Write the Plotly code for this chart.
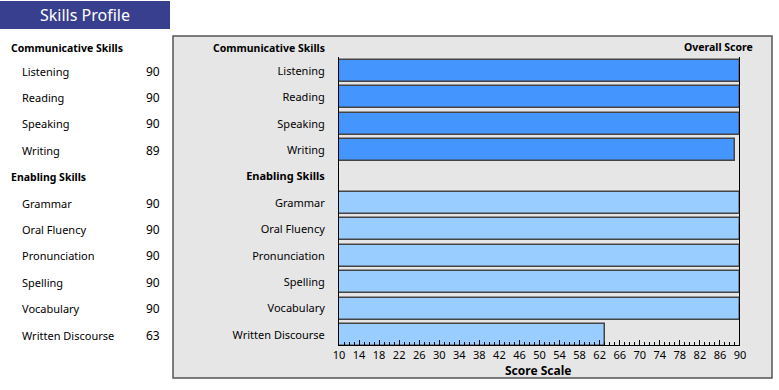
import plotly.graph_objects as go

# ---------------- data ----------------
comm_skills = ["Listening", "Reading", "Speaking", "Writing"]
comm_scores = [90, 90, 90, 89]
enab_skills = ["Grammar", "Oral Fluency", "Pronunciation", "Spelling", "Vocabulary", "Written Discourse"]
enab_scores = [90, 90, 90, 90, 90, 63]
group_titles = ["Communicative Skills", "Enabling Skills"]
scale_min, scale_max = 10, 90
overall_score = 90
tick_values = list(range(10, 91, 4))

# ---------------- layout helpers ----------------
W, H = 779, 390
PX_L, PX_R, PY_T, PY_B = 339, 740, 57, 345
ROW0, PITCH = 71, 26.4
FONT = "Noto Sans"

def px_x(px):
    return (px - PX_L) / (PX_R - PX_L)

def px_y(py):
    return (PY_B - py) / (PY_B - PY_T)

comm_rows = list(range(len(comm_skills)))
header_row = len(comm_skills)
enab_rows = [header_row + 1 + i for i in range(len(enab_skills))]

fig = go.Figure()
fig.add_trace(go.Bar(
    y=comm_rows, x=[s - scale_min for s in comm_scores], base=scale_min,
    orientation="h", width=0.83,
    marker=dict(color="#4595FF", line=dict(color="#444444", width=1.5)),
    hoverinfo="skip", showlegend=False))
fig.add_trace(go.Bar(
    y=enab_rows, x=[s - scale_min for s in enab_scores], base=scale_min,
    orientation="h", width=0.83,
    marker=dict(color="#99CCFF", line=dict(color="#444444", width=1.5)),
    hoverinfo="skip", showlegend=False))

tickvals = comm_rows + [header_row] + enab_rows
ticktext = comm_skills + ["<b>" + group_titles[1] + "</b>"] + enab_skills

shapes = [
    # grey panel
    dict(type="rect", xref="paper", yref="paper",
         x0=px_x(173), x1=px_x(772), y0=px_y(378), y1=px_y(36),
         fillcolor="#E6E6E6", line=dict(color="#555555", width=1.5), layer="below"),
    # title box
    dict(type="rect", xref="paper", yref="paper",
         x0=px_x(0), x1=px_x(170), y0=px_y(29), y1=px_y(1),
         fillcolor="#383F8F", line=dict(width=0), layer="below"),
    # overall score line
    dict(type="line", xref="x", yref="paper", x0=overall_score, x1=overall_score,
         y0=0, y1=1, line=dict(color="black", width=2)),
]

ann = []
ann.append(dict(text="Skills Profile", xref="paper", yref="paper", x=px_x(85), y=px_y(15),
                xanchor="center", yanchor="middle", showarrow=False,
                font=dict(family=FONT, size=16, color="white")))
# chart headers
ann.append(dict(text="<b>" + group_titles[0] + "</b>", xref="paper", yref="paper",
                x=px_x(327), y=px_y(48), xanchor="right", yanchor="middle", showarrow=False,
                font=dict(family=FONT, size=10.5, color="black")))
ann.append(dict(text="<b>Overall Score</b>", xref="paper", yref="paper",
                x=px_x(755), y=px_y(47), xanchor="right", yanchor="middle", showarrow=False,
                font=dict(family=FONT, size=10.5, color="black")))
ann.append(dict(text="<b>Score Scale</b>", xref="paper", yref="paper",
                x=px_x(538), y=px_y(370), xanchor="center", yanchor="middle", showarrow=False,
                font=dict(family=FONT, size=12, color="black")))
# left table
ann.append(dict(text="<b>" + group_titles[0] + "</b>", xref="paper", yref="paper",
                x=px_x(9), y=px_y(48), xanchor="left", yanchor="middle", showarrow=False,
                font=dict(family=FONT, size=10.5, color="black")))
ann.append(dict(text="<b>" + group_titles[1] + "</b>", xref="paper", yref="y",
                x=px_x(9), y=header_row, xanchor="left", yanchor="middle", showarrow=False,
                font=dict(family=FONT, size=10.5, color="black")))
for names, scores, rows in [(comm_skills, comm_scores, comm_rows), (enab_skills, enab_scores, enab_rows)]:
    for n, s, r in zip(names, scores, rows):
        ann.append(dict(text=n, xref="paper", yref="y", x=px_x(20), y=r,
                        xanchor="left", yanchor="middle", showarrow=False,
                        font=dict(family=FONT, size=11, color="black")))
        ann.append(dict(text=str(s), xref="paper", yref="y", x=px_x(162), y=r,
                        xanchor="right", yanchor="middle", showarrow=False,
                        font=dict(family=FONT, size=12, color="black")))

fig.update_layout(
    width=W, height=H,
    margin=dict(l=PX_L, r=W - PX_R, t=PY_T, b=H - PY_B, pad=0),
    paper_bgcolor="white", plot_bgcolor="rgba(0,0,0,0)",
    font=dict(family=FONT, size=11, color="black"),
    bargap=0, shapes=shapes, annotations=ann, showlegend=False,
    xaxis=dict(range=[scale_min, scale_max], tickvals=tick_values, ticks="inside",
               ticklen=5, tickcolor="black", tickwidth=1,
               minor=dict(dtick=1, tick0=scale_min, ticks="inside", ticklen=3, tickcolor="black"),
               showline=True, linecolor="black", linewidth=1,
               showgrid=False, zeroline=False, fixedrange=True,
               tickfont=dict(family=FONT, size=11, color="black")),
    yaxis=dict(range=[(PY_B - ROW0) / PITCH, -(ROW0 - PY_T) / PITCH],
               tickvals=tickvals, ticktext=ticktext, ticks="",
               ticklabelstandoff=11,
               showline=True, linecolor="black", linewidth=1,
               showgrid=False, zeroline=False, fixedrange=True,
               tickfont=dict(family=FONT, size=11, color="black")),
)

fig.write_html("out.html", config={"displayModeBar": False},
               post_script="document.body.style.margin='0';document.body.style.overflow='hidden';")
